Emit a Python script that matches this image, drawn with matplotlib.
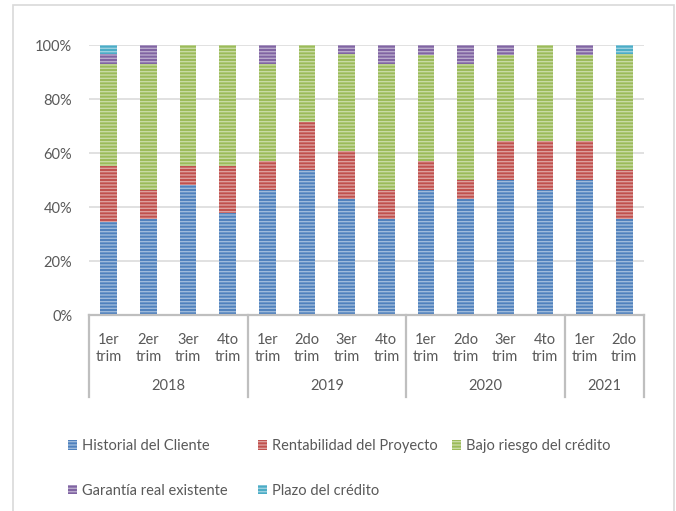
import matplotlib
matplotlib.use("Agg")
import matplotlib.pyplot as plt
import matplotlib.colors as mcolors
from matplotlib.patches import Rectangle, Patch
from matplotlib.lines import Line2D
import numpy as np

# ---- data (percent) ----
categories = ['1er\ntrim', '2er\ntrim', '3er\ntrim', '4to\ntrim',
              '1er\ntrim', '2do\ntrim', '3er\ntrim', '4to\ntrim',
              '1er\ntrim', '2do\ntrim', '3er\ntrim', '4to\ntrim',
              '1er\ntrim', '2do\ntrim']
years = ['2018', '2019', '2020', '2021']
year_sizes = [4, 4, 4, 2]

historial = [34.5, 35.7, 48.3, 37.9, 46.4, 53.6, 42.9, 35.7, 46.4, 42.9, 50.0, 46.4, 50.0, 35.7]
rentabilidad = [20.7, 10.7, 6.9, 17.2, 10.7, 17.9, 17.9, 10.7, 10.7, 7.1, 14.3, 17.9, 14.3, 17.9]
bajo_riesgo = [37.9, 46.4, 44.8, 44.8, 35.7, 28.5, 35.7, 46.4, 39.3, 42.9, 32.1, 35.7, 32.1, 42.9]
garantia = [3.4, 7.1, 0.0, 0.0, 7.1, 0.0, 3.6, 7.1, 3.6, 7.1, 3.6, 0.0, 3.6, 0.0]
plazo = [3.4, 0.0, 0.0, 0.0, 0.0, 0.0, 0.0, 0.0, 0.0, 0.0, 0.0, 0.0, 0.0, 3.6]

series_names = ['Historial del Cliente', 'Rentabilidad del Proyecto',
                'Bajo riesgo del crédito', 'Garantía real existente',
                'Plazo del crédito']
series_values = [historial, rentabilidad, bajo_riesgo, garantia, plazo]
series_colors = ['#4f81bd', '#c0504d', '#9bbb59', '#8064a2', '#4bacc6']

# ---- style ----
plt.rcParams['font.family'] = ['Lato', 'DejaVu Sans']
plt.rcParams['hatch.linewidth'] = 1.0
text_color = '#595959'
fs = 10.5


def lighten(c, amt=0.45):
    r, g, b = mcolors.to_rgb(c)
    return (r + (1 - r) * amt, g + (1 - g) * amt, b + (1 - b) * amt)


fig = plt.figure(figsize=(6.76, 5.11), dpi=100)
ax = fig.add_axes([89 / 676, 1 - 315 / 511, (644 - 89) / 676, (315 - 45) / 511])

x = np.arange(len(categories))
bottom = np.zeros(len(categories))
for name, vals, col in zip(series_names, series_values, series_colors):
    vals = np.array(vals)
    ax.bar(x, vals, width=0.42, bottom=bottom, color=col,
           edgecolor=lighten(col), linewidth=0, hatch='-----', zorder=3)
    bottom += vals

ax.set_xlim(-0.5, len(categories) - 0.5)
ax.set_ylim(0, 100)
ax.set_yticks(np.arange(0, 101, 20))
ax.set_yticklabels([f'{v}%' for v in range(0, 101, 20)])
ax.yaxis.grid(True, color='#d9d9d9', linewidth=1.1, zorder=0)
ax.set_axisbelow(True)
for s in ['top', 'right', 'left']:
    ax.spines[s].set_visible(False)
ax.spines['bottom'].set_color('#bfbfbf')
ax.spines['bottom'].set_linewidth(1.6)
ax.spines['bottom'].set_zorder(4)
ax.tick_params(axis='y', length=0, pad=12, labelsize=fs, labelcolor=text_color)
ax.set_xticks(x)
ax.set_xticklabels(categories, linespacing=1.25)
ax.tick_params(axis='x', length=0, pad=13, labelsize=fs, labelcolor=text_color)

# group separators and year labels
trans = ax.get_xaxis_transform()
bounds = np.concatenate([[0], np.cumsum(year_sizes)]) - 0.5
for b in bounds:
    ax.add_line(Line2D([b, b], [0, -0.305], transform=trans, color='#bfbfbf',
                       linewidth=1.6, clip_on=False))
for i, yr in enumerate(years):
    cx = (bounds[i] + bounds[i + 1]) / 2
    ax.text(cx, -0.263, yr, transform=trans, ha='center', va='center',
            fontsize=fs, color=text_color)

# outer chart border
fig.patches.append(Rectangle((13 / 676, -0.05), (674 - 13) / 676, 1.05 - 5 / 511,
                             transform=fig.transFigure, fill=False,
                             edgecolor='#d9d9d9', linewidth=1.2))

# legend (row-major layout in three columns)
handles = [Patch(facecolor=c, edgecolor=lighten(c), linewidth=0, hatch='-----')
           for c in series_colors]
cols = [[0, 3], [1, 4], [2]]
col_x = [68, 258, 452]
for cx, idxs in zip(col_x, cols):
    leg = fig.legend([handles[i] for i in idxs], [series_names[i] for i in idxs],
                     loc='upper left', bbox_to_anchor=(cx / 676, 1 - 439 / 511),
                     frameon=False, fontsize=fs, labelcolor=text_color,
                     handlelength=0.65, handleheight=0.65, handletextpad=0.3,
                     labelspacing=2.1, borderpad=0, borderaxespad=0)

fig.savefig('out.png', dpi=100)
